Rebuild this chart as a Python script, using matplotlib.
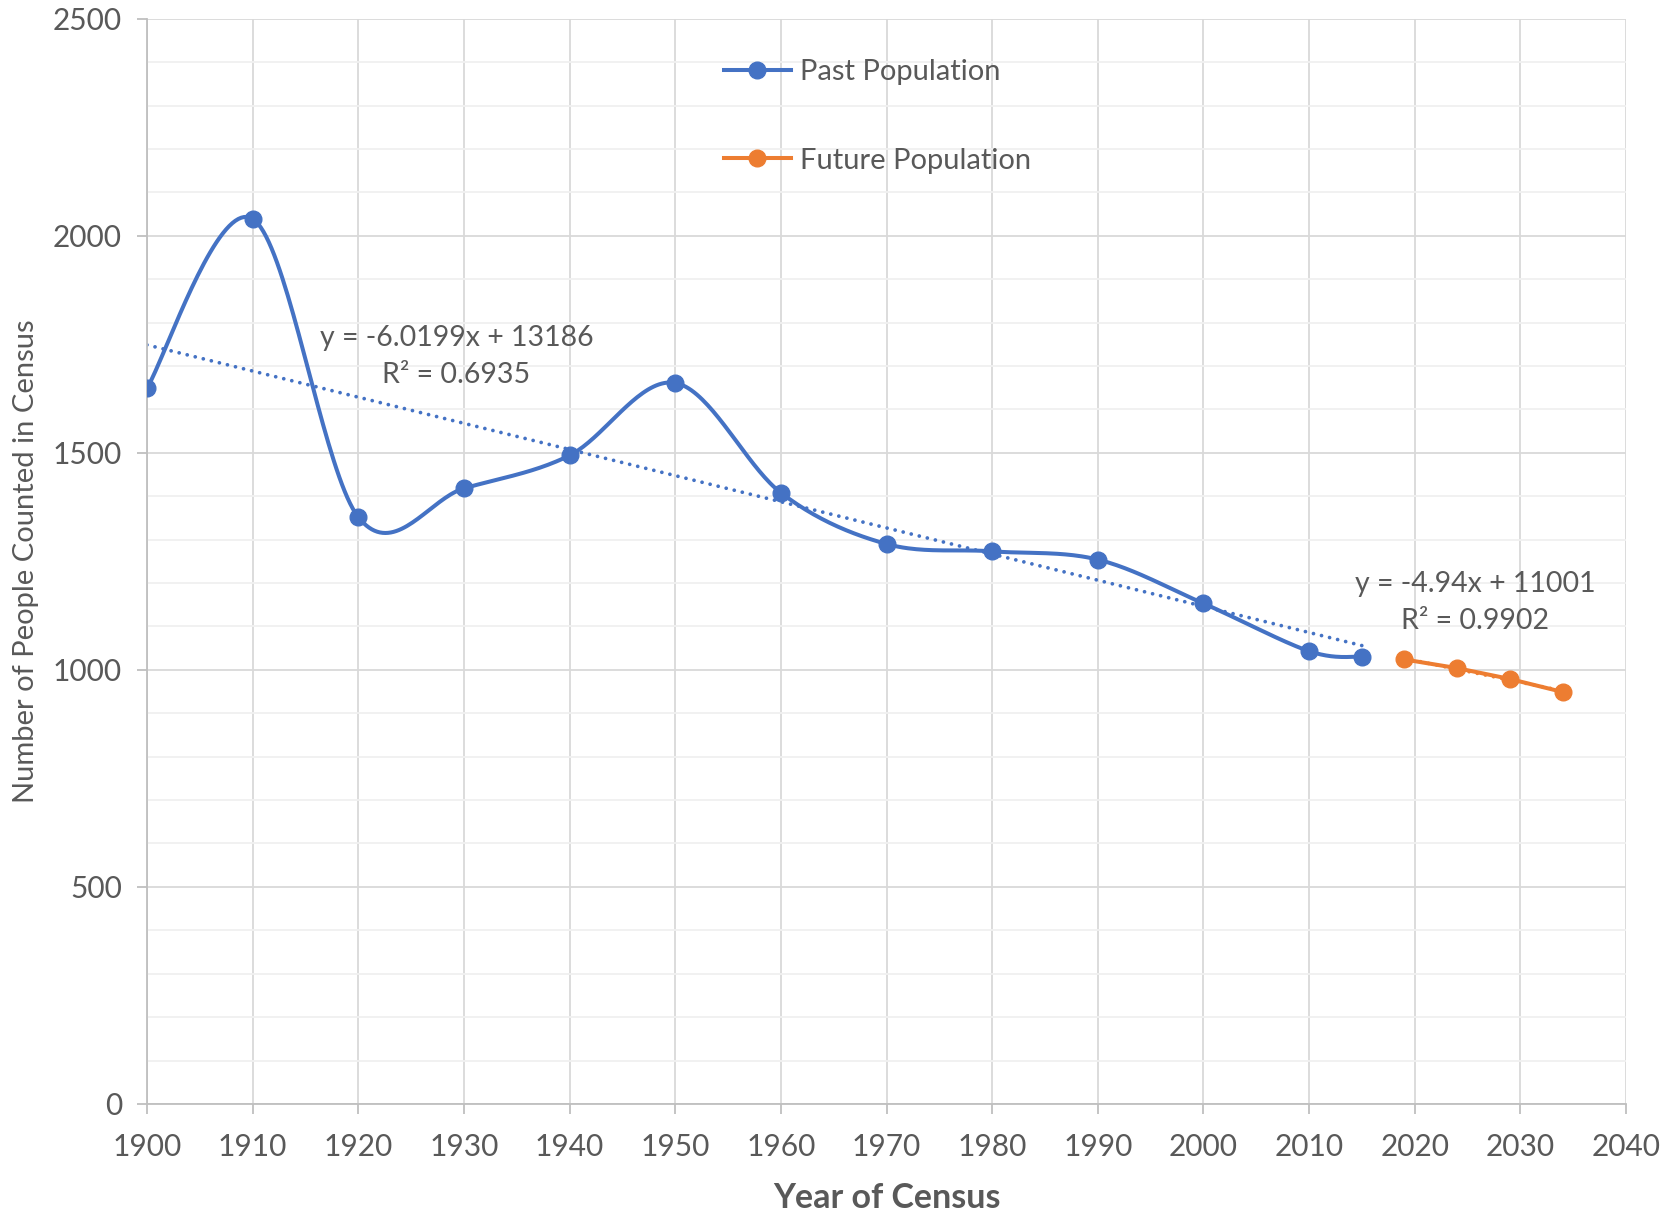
import numpy as np
import matplotlib.pyplot as plt

plt.rcParams['font.family'] = ['Lato', 'DejaVu Sans']

past_years = [1900, 1910, 1920, 1930, 1940, 1950, 1960, 1970, 1980, 1990, 2000, 2010, 2015]
past_pop = [1649, 2039, 1352, 1418, 1494, 1661, 1408, 1290, 1273, 1254, 1153, 1043, 1030]
future_years = [2019, 2024, 2029, 2034]
future_pop = [1024, 1004, 979, 949]

BLUE = '#4472C4'
ORANGE = '#ED7D31'
TXT = '#595959'


def smooth(xs, ys, n=40):
    # excel style smoothed line (bezier through points, catmull-rom tangents)
    p = np.column_stack([xs, ys]).astype(float)
    p = np.vstack([p[0], p, p[-1]])
    out = []
    for i in range(1, len(p) - 2):
        p0, p1, p2, p3 = p[i - 1], p[i], p[i + 1], p[i + 2]
        c1 = p1 + (p2 - p0) / 6
        c2 = p2 - (p3 - p1) / 6
        t = np.linspace(0, 1, n)[:, None]
        seg = (1 - t) ** 3 * p1 + 3 * (1 - t) ** 2 * t * c1 + 3 * (1 - t) * t ** 2 * c2 + t ** 3 * p2
        out.append(seg)
    out = np.vstack(out)
    return out[:, 0], out[:, 1]


fig = plt.figure(figsize=(16.7, 12.15), dpi=100)
ax = fig.add_axes([0.088, 0.0914, 0.8857, 0.8932])

# gridlines
ax.set_xlim(1900, 2040)
ax.set_ylim(0, 2500)
ax.set_xticks(np.arange(1900, 2041, 10))
ax.set_yticks(np.arange(0, 2501, 500))
ax.set_yticks(np.arange(0, 2501, 100), minor=True)
ax.grid(which='major', color='#D9D9D9', lw=1.3, zorder=0)
ax.grid(which='minor', axis='y', color='#F0F0F0', lw=1.3, zorder=0)
ax.set_axisbelow(True)
for s in ['top', 'right']:
    ax.spines[s].set_visible(False)
for s in ['left', 'bottom']:
    ax.spines[s].set_color('#BFBFBF')
    ax.spines[s].set_linewidth(1.3)
ax.tick_params(which='major', length=7, width=1.3, color='#BFBFBF', labelsize=21.5,
               labelcolor=TXT)
ax.tick_params(axis='x', pad=14)
ax.tick_params(axis='y', pad=11)
ax.tick_params(which='minor', length=0)

# trendlines
dots = (0, (0.01, 2.2))
c = np.polyfit(past_years, past_pop, 1)
tx = np.array([past_years[0], past_years[-1]])
ax.plot(tx, np.polyval(c, tx), color=BLUE, lw=2.7, ls=dots,
        dash_capstyle='round', zorder=2)
c2 = np.polyfit(future_years, future_pop, 1)
tx2 = np.array([future_years[0], future_years[-1]])
ax.plot(tx2, np.polyval(c2, tx2), color=ORANGE, lw=2.7, ls=dots,
        dash_capstyle='round', zorder=2)

# series
sx, sy = smooth(past_years, past_pop)
ax.plot(sx, sy, color=BLUE, lw=2.9, zorder=3, solid_capstyle='round')
ax.plot(past_years, past_pop, 'o', color=BLUE, ms=12, zorder=4)
ax.plot(future_years, future_pop, '-', color=ORANGE, lw=2.9, zorder=3)
ax.plot(future_years, future_pop, 'o', color=ORANGE, ms=12, zorder=4)

# legend proxies
h1, = ax.plot([], [], '-o', color=BLUE, lw=2.9, ms=12, label='Past Population')
h2, = ax.plot([], [], '-o', color=ORANGE, lw=2.9, ms=12, label='Future Population')
leg = ax.legend(handles=[h1, h2], loc='upper left', bbox_to_anchor=(0.39, 0.963),
                frameon=False, fontsize=21, handlelength=2.3, handletextpad=0.3,
                labelspacing=2.15, borderpad=0, borderaxespad=0)
for t in leg.get_texts():
    t.set_color(TXT)

ax.text(1929.3, 1722, 'y = -6.0199x + 13186\nR² = 0.6935', ha='center', va='center',
        fontsize=20.5, color=TXT, linespacing=1.55, multialignment='center')
ax.text(2025.7, 1155, 'y = -4.94x + 11001\nR² = 0.9902', ha='center', va='center',
        fontsize=20.5, color=TXT, linespacing=1.55, multialignment='center')

ax.set_ylabel('Number of People Counted in Census', fontsize=21, color=TXT, labelpad=10)
ax.set_xlabel('Year of Census', fontsize=24.5, color=TXT, fontweight='bold', labelpad=15)

fig.savefig('out.png', dpi=100)
